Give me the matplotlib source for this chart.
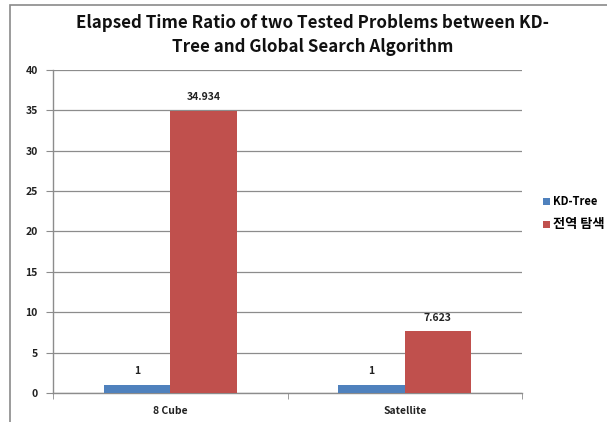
import matplotlib; matplotlib.use('Agg')
import matplotlib.pyplot as plt
import numpy as np
from matplotlib.patches import Rectangle

categories = ['8 Cube', 'Satellite']
kd_tree = [1, 1]
global_search = [34.934, 7.623]
series_names = ['KD-Tree', '전역 탐색']
yticks = [0, 5, 10, 15, 20, 25, 30, 35, 40]

plt.rcParams['font.family'] = ['Noto Sans CJK KR', 'DejaVu Sans']

BLUE = '#4F81BD'
RED = '#C0504D'
GRID = '#8C8C8C'


def main():
    fig = plt.figure(figsize=(6.07, 4.22), dpi=100)
    # outer chart frame (right/bottom edges cropped in the original)
    fig.patches.append(Rectangle((10 / 607, -0.05), 1.0, 0.988 + 0.05,
                                 transform=fig.transFigure, fill=False,
                                 edgecolor='#8A8A8A', linewidth=1.2))

    ax = fig.add_axes([53 / 607, 1 - 393 / 422, (522 - 53) / 607, (393 - 70) / 422])
    x = np.arange(len(categories))
    w = 0.283
    b1 = ax.bar(x - w / 2, kd_tree, w, color=BLUE, label=series_names[0], zorder=3)
    b2 = ax.bar(x + w / 2, global_search, w, color=RED, label=series_names[1], zorder=3)

    for bars, vals in ((b1, kd_tree), (b2, global_search)):
        for r, v in zip(bars, vals):
            ax.text(r.get_x() + r.get_width() / 2, v + 1.1, f'{v:g}',
                    ha='center', va='bottom', fontsize=7.5, fontweight='bold',
                    color='#222222')

    ax.set_xlim(-0.5, len(categories) - 0.5)
    ax.set_ylim(0, 40)
    ax.set_yticks(yticks)
    ax.yaxis.grid(True, color=GRID, linewidth=0.9, zorder=0)
    ax.set_axisbelow(True)
    ax.set_xticks(x)
    ax.set_xticklabels(categories, fontsize=7.5, fontweight='bold', color='#222222')
    ax.set_xticks([-0.5, 0.5, 1.5], minor=True)
    ax.tick_params(axis='x', which='major', length=0, pad=9)
    ax.tick_params(axis='x', which='minor', length=4, color=GRID)
    ax.tick_params(axis='y', length=5, color=GRID, labelsize=7.5, pad=6,
                   labelcolor='#222222')
    for lab in ax.get_yticklabels():
        lab.set_fontweight('bold')
    for s in ('top', 'right'):
        ax.spines[s].set_visible(False)
    for s in ('left', 'bottom'):
        ax.spines[s].set_color(GRID)
        ax.spines[s].set_linewidth(1.0)

    fig.text(313 / 607, 1 - 35 / 422,
             'Elapsed Time Ratio of two Tested Problems between KD-\nTree and Global Search Algorithm',
             ha='center', va='center', fontsize=12.2, fontweight='bold',
             linespacing=1.4, color='#111111')

    fig.legend(handles=[b1, b2], loc='center left',
               bbox_to_anchor=(533 / 607, 1 - 213 / 422), frameon=False,
               fontsize=8, handlelength=0.6, handleheight=0.6,
               handletextpad=0.3, labelspacing=0.8)
    texts = fig.legends[0].get_texts()
    for t in texts:
        t.set_fontweight('bold')
    texts[1].set_fontsize(9.5)

    fig.savefig('out.png', dpi=100)
    plt.close(fig)


if __name__ == '__main__':
    main()
